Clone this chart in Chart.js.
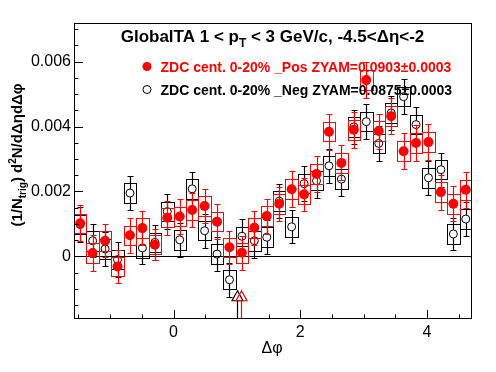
<!DOCTYPE html>
<html lang="en">
<head>
<meta charset="UTF-8" />
<title>GlobalTA dphi correlation</title>
<script src="https://cdn.jsdelivr.net/npm/chart.js"></script>
<style>
  html, body { margin: 0; padding: 0; background: #ffffff; }
  #wrap { width: 496px; height: 372px; }
</style>
</head>
<body>
<div id="wrap"><canvas id="corr" width="496" height="372"></canvas></div>
<script>
// bin centres in delta phi (32 bins over -pi/2 .. 3pi/2)
const dphi = [
  -1.4726, -1.2763, -1.0799, -0.8836, -0.6872, -0.4909, -0.2945, -0.0982,
   0.0982,  0.2945,  0.4909,  0.6872,  0.8836,  1.0799,  1.2763,  1.4726,
   1.6690,  1.8653,  2.0617,  2.2580,  2.4544,  2.6507,  2.8471,  3.0434,
   3.2398,  3.4361,  3.6325,  3.8288,  4.0252,  4.2215,  4.4179,  4.6142
];

// ZDC 0-20% _Pos (red)
const posVals = [
  0.00102, 0.00010, 0.00048, -0.00031, 0.00065, 0.00087, 0.00036, 0.00119,
  0.00123, 0.00143, 0.00155, 0.00107, 0.00028, 0.00011, 0.00088, 0.00124,
  0.00162, 0.00207, 0.00191, 0.00254, 0.00384, 0.00288, 0.00390, 0.00543,
  0.00386, 0.00432, 0.00324, 0.00349, 0.00352, 0.00198, 0.00162, 0.00205
];
const posErr = [
  0.00055, 0.00056, 0.00051, 0.00052, 0.00054, 0.00052, 0.00047, 0.00053,
  0.00053, 0.00053, 0.00053, 0.00053, 0.00050, 0.00053, 0.00053, 0.00054,
  0.00053, 0.00055, 0.00050, 0.00055, 0.00056, 0.00054, 0.00055, 0.00056,
  0.00054, 0.00055, 0.00055, 0.00055, 0.00055, 0.00054, 0.00054, 0.00055
];

// ZDC 0-20% _Neg (black)
const negVals = [
  0.00098, 0.00048, 0.00023, -0.00010, 0.00195, 0.00026, 0.00043, 0.00138,
  0.00051, 0.00208, 0.00079, 0.00007, -0.00072, 0.00062, 0.00048, 0.00059,
  0.00170, 0.00091, 0.00224, 0.00233, 0.00279, 0.00238, 0.00399, 0.00415,
  0.00348, 0.00442, 0.00492, 0.00406, 0.00242, 0.00267, 0.00069, 0.00115
];
const negErr = [
  0.00053, 0.00051, 0.00053, 0.00054, 0.00053, 0.00051, 0.00054, 0.00053,
  0.00053, 0.00053, 0.00053, 0.00053, 0.00053, 0.00053, 0.00053, 0.00053,
  0.00053, 0.00051, 0.00053, 0.00053, 0.00053, 0.00053, 0.00053, 0.00053,
  0.00053, 0.00053, 0.00053, 0.00053, 0.00053, 0.00053, 0.00050, 0.00053
];

// ZYAM uncertainty boxes and ZYAM minimum positions
const zyamSys = 0.0003;
const zyamPosX = 1.07;
const zyamNegX = 1.00;
const arrowTipY = -0.00106;

const xTickVals = [0, 2, 4];
const yTickVals = [0, 0.002, 0.004, 0.006];

const binHalf = 0.0982;
const FONT = "'Liberation Sans', Arial, Helvetica, sans-serif";
const RED = "#ff0000";

function drawBoxesAndErrors(chart, vals, errs, color, markerR) {
  const ctx = chart.ctx;
  const xs = chart.scales.x, ys = chart.scales.y;
  const a = chart.chartArea;
  ctx.save();
  ctx.beginPath();
  ctx.rect(a.left, a.top, a.right - a.left, a.bottom - a.top);
  ctx.clip();
  ctx.strokeStyle = color;
  ctx.lineWidth = 1;
  for (let i = 0; i < dphi.length; i++) {
    const x0 = Math.round(xs.getPixelForValue(dphi[i] - binHalf)) + 0.5;
    const x1 = Math.round(xs.getPixelForValue(dphi[i] + binHalf)) + 0.5;
    const yt = Math.round(ys.getPixelForValue(vals[i] + zyamSys)) + 0.5;
    const yb = Math.round(ys.getPixelForValue(vals[i] - zyamSys)) + 0.5;
    ctx.strokeRect(x0, yt, x1 - x0, yb - yt);
  }
  ctx.lineWidth = 1.2;
  for (let i = 0; i < dphi.length; i++) {
    const px = Math.round(xs.getPixelForValue(dphi[i])) + 0.5;
    const py = ys.getPixelForValue(vals[i]);
    const up = Math.round(ys.getPixelForValue(vals[i] + errs[i])) + 0.5;
    const dn = Math.round(ys.getPixelForValue(vals[i] - errs[i])) + 0.5;
    ctx.beginPath();
    ctx.moveTo(px, up); ctx.lineTo(px, py - markerR);
    ctx.moveTo(px, py + markerR); ctx.lineTo(px, dn);
    ctx.moveTo(px - 3, up); ctx.lineTo(px + 3, up);
    ctx.moveTo(px - 3, dn); ctx.lineTo(px + 3, dn);
    ctx.stroke();
  }
  ctx.restore();
}

function drawArrow(chart, xv, color) {
  const ctx = chart.ctx;
  const px = Math.round(chart.scales.x.getPixelForValue(xv)) + 0.5;
  const tip = chart.scales.y.getPixelForValue(arrowTipY);
  const base = tip + 10;
  ctx.save();
  ctx.strokeStyle = color;
  ctx.lineWidth = 1.2;
  ctx.beginPath();
  ctx.moveTo(px, base); ctx.lineTo(px, chart.chartArea.bottom);
  ctx.stroke();
  ctx.beginPath();
  ctx.moveTo(px, tip); ctx.lineTo(px - 5.5, base); ctx.lineTo(px + 5.5, base); ctx.closePath();
  ctx.stroke();
  ctx.restore();
}

// text pieces: [text, size, baseline shift]
function drawPieces(ctx, pieces, x, y, color) {
  let cx = x;
  ctx.fillStyle = color;
  ctx.textBaseline = "alphabetic";
  ctx.textAlign = "left";
  for (const [t, size, dy] of pieces) {
    ctx.font = "bold " + size + "px " + FONT;
    ctx.fillText(t, cx, y + dy);
    cx += ctx.measureText(t).width;
  }
}
function piecesWidth(ctx, pieces) {
  let w = 0;
  for (const [t, size] of pieces) {
    ctx.font = "bold " + size + "px " + FONT;
    w += ctx.measureText(t).width;
  }
  return w;
}

const rootStyle = {
  id: "rootStyle",
  beforeDatasetsDraw(chart) {
    const ctx = chart.ctx, a = chart.chartArea;
    const y0 = Math.round(chart.scales.y.getPixelForValue(0)) + 0.5;
    ctx.save();
    ctx.strokeStyle = "#000";
    ctx.lineWidth = 1;
    ctx.beginPath();
    ctx.moveTo(a.left, y0); ctx.lineTo(a.right, y0);
    ctx.stroke();
    ctx.restore();
  },
  beforeDatasetDraw(chart, args) {
    if (args.index === 0) drawBoxesAndErrors(chart, posVals, posErr, RED, 0);
    else drawBoxesAndErrors(chart, negVals, negErr, "#000000", 4);
  },
  afterDatasetsDraw(chart) {
    const ctx = chart.ctx, a = chart.chartArea;
    const xs = chart.scales.x, ys = chart.scales.y;
    drawArrow(chart, zyamNegX, "#000000");
    drawArrow(chart, zyamPosX, RED);

    // frame
    ctx.save();
    ctx.strokeStyle = "#000";
    ctx.lineWidth = 1;
    ctx.strokeRect(Math.round(a.left) + 0.5, Math.round(a.top) + 0.5,
      Math.round(a.right - a.left) - 1, Math.round(a.bottom - a.top) - 1);
    // x ticks inside the frame
    ctx.beginPath();
    for (let v = -1.5; v <= 4.5 + 1e-9; v += 0.5) {
      const px = Math.round(xs.getPixelForValue(v)) + 0.5;
      const major = Math.abs(v / 2 - Math.round(v / 2)) < 1e-6;
      ctx.moveTo(px, a.bottom); ctx.lineTo(px, a.bottom - (major ? 9 : 4.5));
    }
    // y ticks
    for (let v = -0.0015; v <= 0.007 + 1e-9; v += 0.0005) {
      const py = Math.round(ys.getPixelForValue(v)) + 0.5;
      const major = Math.abs(v / 0.002 - Math.round(v / 0.002)) < 1e-6;
      ctx.moveTo(a.left, py); ctx.lineTo(a.left + (major ? 9 : 4.5), py);
    }
    ctx.stroke();
    ctx.restore();
  },
  afterDraw(chart) {
    const ctx = chart.ctx;
    ctx.save();
    // title
    const title = [["GlobalTA 1 < p", 17, 0], ["T", 12, 5], [" < 3 GeV/c, -4.5<\u0394\u03b7<-2", 17, 0]];
    const tw = piecesWidth(ctx, title);
    drawPieces(ctx, title, 272.5 - tw / 2, 42, "#000");

    // legend
    ctx.fillStyle = RED;
    ctx.beginPath(); ctx.arc(147, 66.5, 4.5, 0, Math.PI * 2); ctx.fill();
    ctx.strokeStyle = "#000"; ctx.lineWidth = 1;
    ctx.beginPath(); ctx.arc(147, 89.5, 4, 0, Math.PI * 2); ctx.stroke();
    drawPieces(ctx, [["ZDC cent. 0-20% _Pos ZYAM=0.0903\u00b10.0003", 14, 0]], 160.5, 71.5, RED);
    drawPieces(ctx, [["ZDC cent. 0-20% _Neg ZYAM=0.0875\u00b10.0003", 14, 0]], 160.5, 94.5, "#000");

    // x title
    ctx.fillStyle = "#000";
    ctx.font = "16px " + FONT;
    ctx.textAlign = "center";
    ctx.textBaseline = "alphabetic";
    ctx.fillText("\u0394\u03c6", 272, 353);

    // y title (rotated)
    const ytitle = [["(1/N", 15, 0], ["trig", 10, 4], [") d", 15, 0], ["2", 10, -6], ["N/d\u0394\u03b7d\u0394\u03c6", 15, 0]];
    const yw = piecesWidth(ctx, ytitle);
    ctx.translate(22, 155);
    ctx.rotate(-Math.PI / 2);
    drawPieces(ctx, ytitle, -yw / 2, 0, "#000");
    ctx.restore();
  }
};

const ctx = document.getElementById("corr").getContext("2d");
new Chart(ctx, {
  type: "scatter",
  data: {
    datasets: [
      {
        label: "ZDC cent. 0-20% _Pos",
        data: dphi.map((x, i) => ({ x, y: posVals[i] })),
        pointRadius: 5,
        pointBackgroundColor: RED,
        pointBorderColor: RED,
        pointBorderWidth: 0
      },
      {
        label: "ZDC cent. 0-20% _Neg",
        data: dphi.map((x, i) => ({ x, y: negVals[i] })),
        pointRadius: 4,
        pointBackgroundColor: "rgba(0,0,0,0)",
        pointBorderColor: "#000000",
        pointBorderWidth: 1
      }
    ]
  },
  options: {
    responsive: false,
    animation: false,
    devicePixelRatio: 1,
    layout: { padding: { left: 0, top: 23, right: 24, bottom: 0 } },
    plugins: { legend: { display: false }, tooltip: { enabled: false } },
    scales: {
      x: {
        type: "linear",
        min: -Math.PI / 2,
        max: 3 * Math.PI / 2,
        grid: { display: false, drawTicks: false },
        border: { display: false },
        afterBuildTicks: (s) => { s.ticks = xTickVals.map((v) => ({ value: v })); },
        afterFit: (s) => { s.height = 53; },
        ticks: {
          padding: 4, color: "#000", autoSkip: false, maxRotation: 0,
          font: { family: FONT, size: 16 },
          callback: (v) => String(v)
        }
      },
      y: {
        type: "linear",
        min: -0.00193,
        max: 0.00719,
        grid: { display: false, drawTicks: false },
        border: { display: false },
        afterBuildTicks: (s) => { s.ticks = yTickVals.map((v) => ({ value: v })); },
        afterFit: (s) => { s.width = 74; },
        ticks: {
          padding: 3, color: "#000", autoSkip: false,
          font: { family: FONT, size: 16 },
          callback: (v) => (v === 0 ? "0" : v.toFixed(3))
        }
      }
    }
  },
  plugins: [rootStyle]
});
</script>
</body>
</html>
